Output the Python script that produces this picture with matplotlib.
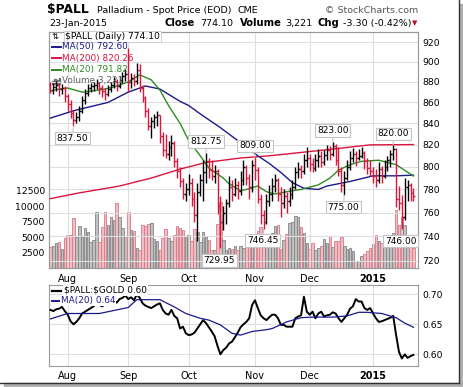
import numpy as np
import pandas as pd
import matplotlib
matplotlib.use('Agg')
import matplotlib.pyplot as plt
from matplotlib.collections import LineCollection
from matplotlib.patches import Rectangle

# trading days shown (NYSE calendar)
holidays = ['2014-09-01', '2014-11-27', '2014-12-25', '2015-01-01', '2015-01-19']
dates = pd.bdate_range('2014-07-24', '2015-01-23', freq='C', holidays=holidays)

opens = [878, 872, 875, 877, 873, 874, 866, 858, 850, 843, 846, 852, 862, 869, 874, 876, 877, 879, 874, 871,
         868, 873, 877, 881, 876, 882, 886, 888, 880, 884, 881, 892, 874, 864, 852, 838, 842, 846, 848, 828,
         815, 812, 818, 822, 805, 796, 787, 776, 780, 786, 772, 758, 778, 788, 795, 805, 797, 792, 796, 766,
         752, 760, 768, 782, 776, 784, 779, 788, 800, 790, 782, 802, 797, 772, 758, 752, 770, 776, 783, 788,
         776, 768, 774, 770, 776, 782, 795, 798, 796, 806, 808, 803, 799, 806, 810, 804, 811, 815, 812, 819,
         806, 796, 784, 790, 800, 808, 812, 808, 810, 813, 805, 799, 796, 792, 788, 798, 792, 800, 806, 812,
         816, 772, 768, 756, 782, 784, 777]
highs = [880, 879, 881, 879, 878, 876, 868, 862, 853, 851, 857, 866, 873, 878, 879, 880, 883, 880, 877, 874,
         877, 880, 885, 883, 886, 890, 893, 914, 889, 888, 899, 898, 877, 866, 855, 846, 849, 852, 848, 832,
         830, 824, 829, 824, 808, 800, 790, 786, 794, 790, 778, 786, 794, 806, 812.75, 808, 806, 802, 798, 774,
         766, 772, 792, 788, 790, 787, 796, 806, 802, 794, 806, 809, 800, 776, 762, 776, 784, 790, 794, 790,
         782, 780, 778, 782, 788, 800, 804, 802, 812, 818, 812, 808, 812, 816, 814, 815, 820, 819, 823, 821,
         818, 800, 796, 806, 814, 817, 814, 816, 818, 814, 808, 806, 800, 798, 804, 801, 806, 810, 815, 820,
         817, 783, 775, 790, 788, 786, 781]
lows = [869, 868, 871, 866, 868, 860, 852, 845, 837.5, 840, 842, 850, 858, 866, 870, 871, 873, 868, 865, 862,
        866, 870, 874, 871, 874, 879, 881, 870, 874, 876, 878, 870, 860, 846, 834, 826, 836, 838, 822, 810,
        808, 806, 810, 800, 790, 782, 772, 770, 775, 766, 752, 736, 774, 770, 786, 790, 788, 786, 759, 729.95,
        745, 750, 765, 770, 774, 772, 775, 784, 784, 772, 778, 788, 768, 750, 746.45, 750, 766, 770, 778, 770,
        756, 764, 760, 766, 772, 780, 790, 790, 794, 800, 796, 795, 796, 800, 800, 802, 806, 806, 810, 802,
        792, 778, 775, 788, 797, 804, 801, 806, 808, 798, 794, 792, 786, 782, 786, 786, 790, 796, 800, 806,
        765, 762, 746, 754, 770, 770, 770]
closes = [872, 875, 877, 873, 874, 866, 858, 850, 843, 846, 852, 862, 869, 874, 876, 877, 879, 874, 871, 868,
          873, 877, 881, 876, 882, 886, 888, 880, 884, 881, 892, 874, 864, 852, 838, 842, 846, 848, 828, 815,
          812, 818, 822, 805, 796, 787, 776, 780, 786, 772, 758, 778, 788, 795, 805, 797, 792, 796, 766, 752,
          760, 768, 782, 776, 784, 779, 788, 800, 790, 782, 802, 797, 772, 758, 752, 770, 776, 783, 788, 776,
          768, 774, 770, 776, 782, 795, 798, 796, 806, 808, 803, 799, 806, 810, 804, 811, 815, 812, 819, 806,
          796, 784, 790, 800, 808, 812, 808, 810, 813, 805, 799, 796, 792, 788, 798, 792, 800, 806, 812, 816,
          772, 768, 756, 782, 784, 777, 774.10]
volume = [3350, 3560, 4000, 4160, 3030, 4800, 5340, 5340, 8040, 4970, 6800, 5070, 6520, 5870, 4260, 4530, 9110,
          4260, 6690, 9110, 6960, 8300, 7770, 10470, 8300, 6420, 5180, 9110, 6150, 5990, 3190, 2910, 6960, 6800,
          7070, 7340, 4640, 4370, 2910, 4800, 6260, 4910, 4370, 5340, 6800, 6420, 6150, 5070, 5340, 4370, 6260,
          5870, 4260, 5870, 5070, 4530, 2910, 2910, 7070, 10730, 4530, 2910, 3190, 3030, 3560, 2910,
          3600, 3200, 4800, 5400, 4300, 4700, 6000, 6700, 5300, 3800, 4500, 5600, 6800, 6900, 3000, 4600, 5500,
          7300, 7500, 8400, 8300, 6700, 5600, 4000, 3000, 4100, 2900, 3300, 3600, 4700, 4000, 5200, 3400, 4400,
          4300, 5000, 3500, 3000, 3300, 2800, 1200, 1200, 1900, 2200, 2800, 3300, 3800, 5300, 4300, 4000, 4500,
          4900, 4000, 5600, 9400, 7000, 8200, 7000, 3600, 3600, 3300]

# moving averages (bar index, value)
ma50_idx = [0, 8, 20, 27, 33, 38, 45, 48, 52, 59, 66, 72, 76, 80, 84, 88, 93, 96, 100, 104, 112, 120, 126]
ma50_val = [845, 852, 860, 870, 876, 873, 861, 857, 849, 836, 822, 810, 803, 795, 786, 781, 780, 783, 785,
            787, 792, 792, 792.6]
ma200_idx = [0, 10, 24, 35, 45, 54, 66, 76, 94, 111, 126]
ma200_val = [772, 777, 783, 790, 798, 804, 808, 810, 815, 820, 820.26]
ma20_idx = [0, 3, 6, 11, 17, 22, 27, 31, 35, 38, 41, 45, 48, 52, 55, 60, 62, 66, 68, 72, 75, 78, 82, 87,
            93, 97, 100, 104, 108, 114, 120, 126]
ma20_val = [871, 873, 874, 870, 872, 875, 880, 887, 882, 872, 857, 840, 824, 810, 799, 790, 785, 779, 780,
            783, 778, 776, 778, 780, 784, 790, 797, 802, 805, 806, 802, 791.82]

ratio = [0.674, 0.672, 0.675, 0.676, 0.679, 0.672, 0.666, 0.655, 0.650, 0.654, 0.660, 0.668, 0.671, 0.674,
         0.677, 0.680, 0.685, 0.682, 0.680, 0.684, 0.686, 0.688, 0.690, 0.686, 0.692, 0.694, 0.698, 0.692,
         0.695, 0.690, 0.700, 0.694, 0.685, 0.681, 0.679, 0.677, 0.680, 0.683, 0.685, 0.674, 0.668, 0.666,
         0.674, 0.664, 0.660, 0.643, 0.646, 0.635, 0.632, 0.633, 0.636, 0.643, 0.650, 0.657, 0.652, 0.645,
         0.638, 0.630, 0.614, 0.600, 0.607, 0.611, 0.618, 0.621, 0.628, 0.636, 0.645, 0.650, 0.654, 0.660,
         0.682, 0.690, 0.677, 0.665, 0.660, 0.657, 0.662, 0.666, 0.666, 0.660, 0.649, 0.649, 0.646, 0.646,
         0.646, 0.660, 0.663, 0.665, 0.696, 0.671, 0.666, 0.671, 0.660, 0.668, 0.671, 0.663, 0.665, 0.666,
         0.670, 0.668, 0.660, 0.654, 0.660, 0.666, 0.676, 0.680, 0.692, 0.688, 0.688, 0.677, 0.674, 0.677,
         0.668, 0.660, 0.654, 0.655, 0.657, 0.659, 0.661, 0.664, 0.632, 0.604, 0.593, 0.600, 0.594, 0.597,
         0.599]
rma_idx = [0, 6, 17, 27, 30, 38, 43, 47, 52, 55, 59, 63, 66, 70, 75, 77, 82, 87, 91, 98, 103, 107, 110,
           115, 120, 123, 126]
rma_val = [0.659, 0.668, 0.668, 0.678, 0.691, 0.691, 0.679, 0.668, 0.660, 0.657, 0.649, 0.635, 0.632, 0.638,
           0.641, 0.643, 0.654, 0.661, 0.662, 0.662, 0.664, 0.670, 0.670, 0.668, 0.661, 0.652, 0.645]

price_ticks = [720, 740, 760, 780, 800, 820, 840, 860, 880, 900, 920]
vol_ticks = [2500, 5000, 7500, 10000, 12500]
ratio_ticks = [0.60, 0.65, 0.70]
month_labels = ['Aug', 'Sep', 'Oct', 'Nov', 'Dec', '2015']
high_marks = [54, 71, 98, 119]
low_marks = [8, 59, 74, 102, 122]

RED = '#dc143c'
NAVY = '#1a1a8c'
GREEN = '#2e8b22'
GRID = '#dedede'

n = len(dates)
x = np.arange(n)
month_pos = [i for i in range(1, n) if dates[i].month != dates[i - 1].month]

prev = [opens[0]] + closes[:-1]
up = [c >= p for c, p in zip(closes, prev)]

W, H = 464, 387
fig = plt.figure(figsize=(W / 100, H / 100), dpi=100)
fig.patch.set_facecolor('white')


def fx(px):
    return px / W


def fy(py):
    return 1 - py / H


# ---- main price panel
ax = fig.add_axes([fx(49), fy(268), (418 - 49) / W, (268 - 31.7) / H])
axv = ax.twinx()
ax.set_zorder(axv.get_zorder() + 1)
ax.patch.set_visible(False)

ax.set_yscale('log')
ax.set_ylim(714.2, 931)
ax.set_xlim(-0.5, 127.6)
ax.yaxis.tick_right()
ax.yaxis.set_minor_locator(plt.NullLocator())
ax.set_yticks(price_ticks)
ax.set_yticklabels([str(t) for t in price_ticks])
ax.set_xticks(month_pos)
ax.set_xticklabels(month_labels)
for t in ax.get_xticklabels():
    if t.get_text() == '2015':
        t.set_fontweight('bold')
ax.tick_params(axis='both', length=0, labelsize=6.7, pad=3)
ax.tick_params(axis='x', pad=4, labelsize=7)
ax.grid(True, color=GRID, lw=0.8)
ax.set_axisbelow(True)

axv.set_ylim(0, 38200)
axv.yaxis.tick_left()
axv.set_yticks(vol_ticks)
axv.set_yticklabels([str(t) for t in vol_ticks])
axv.tick_params(axis='y', length=0, labelsize=6.7, pad=3)
for a in (ax, axv):
    for s in a.spines.values():
        s.set_color('#9a9a9a')
        s.set_linewidth(0.8)

vol_fill = ['#c0c0c0' if u else '#f3bcc3' for u in up]
vol_edge = ['#848484' if u else '#d47a87' for u in up]
axv.bar(x, volume, width=0.9, color=vol_fill, edgecolor=vol_edge, linewidth=0.6)
axv.grid(False)

segs, cols = [], []
for i in x:
    c = 'black' if up[i] else RED
    segs += [[(i, lows[i]), (i, highs[i])],
             [(i - 0.5, opens[i]), (i, opens[i])],
             [(i, closes[i]), (i + 0.5, closes[i])]]
    cols += [c, c, c]
ax.add_collection(LineCollection(segs, colors=cols, linewidths=1.0, zorder=4))

ax.plot(ma200_idx, ma200_val, color=RED, lw=1.0, zorder=3)
ax.plot(ma50_idx, ma50_val, color=NAVY, lw=1.0, zorder=3)
ax.plot(ma20_idx, ma20_val, color=GREEN, lw=1.0, zorder=3)

box = dict(boxstyle='square,pad=0.2', fc='white', ec='#c4c4c4', lw=0.8)
for i in high_marks:
    ax.annotate(f'{highs[i]:.2f}', xy=(i, highs[i]), xytext=(0, 11), textcoords='offset pixels',
                ha='center', va='center', fontsize=6.5, bbox=box, zorder=6,
                arrowprops=dict(arrowstyle='-', color='#c4c4c4', lw=0.8, shrinkA=0, shrinkB=0))
for i in low_marks:
    ax.annotate(f'{lows[i]:.2f}', xy=(i, lows[i]), xytext=(-1, -12), textcoords='offset pixels',
                ha='center', va='center', fontsize=6.5, bbox=box, zorder=6,
                arrowprops=dict(arrowstyle='-', color='#c4c4c4', lw=0.8, shrinkA=0, shrinkB=0))

# ---- ratio panel
ax2 = fig.add_axes([fx(49), fy(365.7), (418 - 49) / W, (365.7 - 285) / H])
ax2.plot(x, ratio, color='black', lw=1.4, zorder=3)
ax2.plot(rma_idx, rma_val, color=NAVY, lw=0.9, zorder=3)
ax2.set_xlim(-0.5, 127.6)
ax2.set_ylim(0.581, 0.7155)
ax2.yaxis.tick_right()
ax2.set_yticks(ratio_ticks)
ax2.set_yticklabels([f'{t:.2f}' for t in ratio_ticks])
ax2.set_xticks(month_pos)
ax2.set_xticklabels(month_labels)
for t in ax2.get_xticklabels():
    if t.get_text() == '2015':
        t.set_fontweight('bold')
ax2.tick_params(axis='both', length=0, labelsize=6.7, pad=3)
ax2.tick_params(axis='x', pad=4, labelsize=7)
ax2.grid(True, color=GRID, lw=0.8)
ax2.set_axisbelow(True)
for s in ax2.spines.values():
    s.set_color('#9a9a9a')
    s.set_linewidth(0.8)

# ---- header
fig.text(fx(47), fy(10), r'\$PALL', fontsize=8.8, fontweight='bold', va='center')
fig.text(fx(97), fy(10.5), 'Palladium - Spot Price (EOD)', fontsize=6.8, va='center')
fig.text(fx(238), fy(10.5), 'CME', fontsize=6.8, va='center')
fig.text(fx(418), fy(10.5), '\u00a9 StockCharts.com', fontsize=6.8, va='center', ha='right', color='#555555')
fig.text(fx(49), fy(23.5), '23-Jan-2015', fontsize=6.8, va='center')
fig.text(fx(165), fy(23.5), 'Close', fontsize=7.2, fontweight='bold', va='center')
fig.text(fx(200), fy(23.5), '774.10', fontsize=6.8, va='center')
fig.text(fx(240), fy(23.5), 'Volume', fontsize=7.2, fontweight='bold', va='center')
fig.text(fx(285), fy(23.5), '3,221', fontsize=6.8, va='center')
fig.text(fx(318), fy(23.5), 'Chg', fontsize=7.2, fontweight='bold', va='center')
fig.text(fx(343), fy(23.5), '-3.30 (-0.42%)', fontsize=6.8, va='center')
fig.text(fx(412), fy(23.5), '\u25bc', fontsize=5, va='center', color='#b0102a')

# ---- main panel legend
fig.text(fx(65), fy(36.5), r'\$PALL (Daily) 774.10', fontsize=6.6, va='center',
         bbox=dict(boxstyle='square,pad=0.15', fc='white', ec='#c8c8c8', lw=0.6))
fig.text(fx(52), fy(36.5), '\u21c5', fontsize=6, va='center')
leg = [('MA(50) 792.60', NAVY, 46.5), ('MA(200) 820.26', RED, 58), ('MA(20) 791.82', GREEN, 69.5)]
for txt, col, py in leg:
    fig.add_artist(plt.Line2D([fx(52), fx(61)], [fy(py), fy(py)], color=col, lw=1.4))
    fig.text(fx(62.5), fy(py), txt, fontsize=6.4, va='center', color=col)
for k, hh in enumerate([3, 5, 4, 6]):
    fig.add_artist(Rectangle((fx(52 + 2.2 * k), fy(84)), 1.6 / W, hh / H, color='#707070'))
fig.text(fx(62.5), fy(80.5), 'Volume 3,221', fontsize=6.4, va='center', color='#606060')

# ---- ratio panel legend
fig.add_artist(plt.Line2D([fx(52), fx(61)], [fy(290.5), fy(290.5)], color='black', lw=1.6))
fig.text(fx(64), fy(290.5), r'\$PALL:\$GOLD 0.60', fontsize=6.4, va='center',
         bbox=dict(boxstyle='square,pad=0.1', fc='white', ec='none'))
fig.add_artist(plt.Line2D([fx(52), fx(60)], [fy(301), fy(301)], color=NAVY, lw=1.4))
fig.text(fx(61), fy(301), 'MA(20) 0.64', fontsize=6.4, va='center', color=NAVY,
         bbox=dict(boxstyle='square,pad=0.1', fc='white', ec='none'))

# ---- frame with shadow
fig.add_artist(Rectangle((fx(460), fy(386)), 4 / W, 382 / H, color='#b0b0b0'))
fig.add_artist(Rectangle((fx(4), fy(387)), 458 / W, 4 / H, color='#b0b0b0'))
fig.add_artist(plt.Line2D([fx(459), fx(459)], [fy(0), fy(382.5)], color='#303030', lw=1))
fig.add_artist(plt.Line2D([fx(0), fx(459)], [fy(382.5), fy(382.5)], color='#303030', lw=1))

fig.savefig('out.png', dpi=100)
